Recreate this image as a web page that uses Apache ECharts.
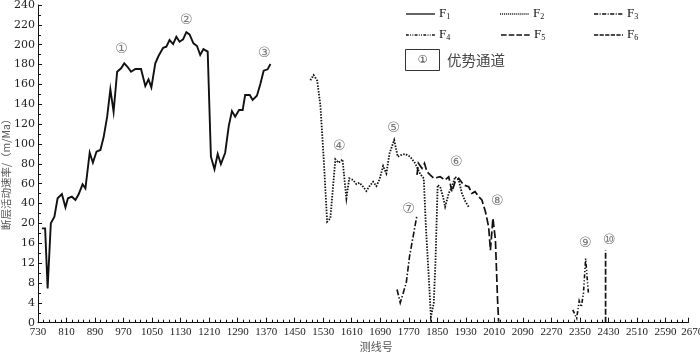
<!DOCTYPE html>
<html><head><meta charset="utf-8">
<script src="https://cdn.jsdelivr.net/npm/echarts@6/dist/echarts.min.js"></script>
<style>html,body{margin:0;padding:0;background:#fff}#c{width:700px;height:353px}</style>
</head><body><div id="c"></div><script>
// tick labels (the source axes are piecewise: equal spacing between printed labels)
const xTickLabels = [730,810,890,970,1050,1130,1210,1290,1370,1450,1530,1610,1690,1770,1850,1930,2010,2090,2270,2350,2430,2510,2590,2670];
const yTickLabels = [0,4,8,12,16,20,40,60,80,100,120,140,160,180,200,220,240];

// F1
const f1X = [741,750,757,766,776,785,797,807,814,825,835,844,855,863,875,884,894,905,914,924,933,942,952,963,972,981,991,1003,1019,1031,1040,1048,1059,1068,1081,1090,1099,1109,1118,1127,1137,1146,1155,1166,1176,1185,1194,1206,1215,1225,1234,1243,1255,1265,1274,1283,1294,1304,1311,1324,1332,1344,1354,1363,1374,1382];
const f1Y = [19,19,6.9,20.1,26.8,45.3,49.6,36.2,45.3,46.9,43.6,49.3,59.4,55.3,91.2,81.1,92.2,94,106.7,127.5,155,132.5,172.8,176.2,181.2,177.8,172.8,175.5,175.5,158.4,165.1,157,181.2,188.6,196.9,198,204.7,200.6,208,203,205.4,212.7,210.4,201.4,198.7,189.6,195.6,193,87.2,74.5,89.9,79.8,91.2,118,133.2,127.5,134.2,134.2,149.3,149.3,144.3,148.6,161,173.8,175.2,180.5];
// F2
const f2X = [1494,1503,1513,1522,1531,1541,1550,1556,1564,1573,1584,1595,1603,1614,1623,1632,1642,1651,1660,1670,1679,1688,1698,1707,1716,1729,1739,1748,1760,1774,1788,1802,1812,1818,1826,1832,1840,1845,1851,1858,1866,1872,1882,1891,1900,1910,1919,1929,1938];
const f2Y = [164.2,169.4,164,139.2,87.2,21.7,25.1,50.3,84.6,81.1,84.6,45.3,65.4,63.7,59.6,60.9,56.9,52.6,57.6,62,57.6,64.4,77.8,70.4,90.6,104,87.2,88.9,89.9,87.2,80.5,69.8,65.4,19.3,9.3,1.2,3.9,12.6,58.7,56.9,46.9,36.8,50.3,56.9,67,63.7,50.3,41.9,36.8];
// F3
const f3X = [1737,1746,1754,1763,1772,1782,1793];
const f3Y = [6.7,4.0,5.9,8.1,13.3,17.3,28.4];
// F4
const f4X = [2330,2341,2348,2354,2360,2366,2369,2374];
const f4Y = [2.6,0.9,4.4,3.2,6.0,12.9,10.2,5.8];
// F5
const f5X = [1793,1797,1807,1814,1821,1830,1840,1858,1872,1882,1891,1900,1910,1924,1938,1947,1956,1966,1975,1985,1994,1999,2006,2013,2019,2022];
const f5Y = [68.8,80.5,75.5,80.5,72.1,68.8,65.4,67.0,63.7,67.0,52.0,62.0,65.4,58.7,56.9,50.3,52.0,46.9,43.6,31.8,19.3,14.6,25.2,16.7,4.6,0.2];
// F6
const f6X = [2422,2422];
const f6Y = [0,14.6];

// channel annotations
const annNames = ['①','②','③','④','⑤','⑥','⑦','⑧','⑨','⑩'];
const annX = [964,1146,1365,1575,1727,1903,1769,2018,2365,2432];
const annY = [195.6,224.8,191.6,98,116.2,81.8,34.6,42.6,15.9,16.5];

const seriesNames = ['F1','F2','F3','F4','F5','F6'];
const legendSub = ['1','2','3','4','5','6'];

function toIdx(v, ticks){
  for (let i = 0; i < ticks.length - 1; i++) {
    if (v <= ticks[i+1]) return i + (v - ticks[i]) / (ticks[i+1] - ticks[i]);
  }
  const n = ticks.length - 1;
  return n + (v - ticks[n]) / (ticks[n] - ticks[n-1]);
}
function pts(xs, ys){ return xs.map((x,i)=>[toIdx(x,xTickLabels), toIdx(ys[i],yTickLabels)]); }

const X_MAX = 22.8; // source axis line stops short of its last printed label
const styles = [
  {type:'solid', width:1.9},
  {type:[1.5,1.4], width:1.8},
  {type:[6,2,1.5,2], width:1.6},
  {type:[4,2,1.2,2,1.2,2], width:1.6},
  {type:[8,3], width:1.7},
  {type:[6,2], width:1.7}
];
const dataSets = [[f1X,f1Y],[f2X,f2Y],[f3X,f3Y],[f4X,f4Y],[f5X,f5Y],[f6X,f6Y]];
const series = dataSets.map((d,i)=>({
  name: seriesNames[i], type:'line', data: pts(d[0], d[1]),
  showSymbol:false, symbol:'none', smooth:false, animation:false,
  lineStyle:{color:'#111', width:styles[i].width, type:styles[i].type, cap:'butt', join:'miter'}
}));
series.push({
  type:'scatter', symbolSize:0, animation:false, silent:true,
  data: annNames.map((n,i)=>({name:n, value:[toIdx(annX[i],xTickLabels), toIdx(annY[i],yTickLabels)]})),
  label:{show:true, position:'inside', formatter:p=>p.name, color:'#555', fontSize:14, fontFamily:'DejaVu Sans'}
});

const serif = 'Liberation Serif';
const legendGraphics = [];
const lgPos = [[406,14],[500,14],[594,14],[406,35],[501,35],[594,35]];
lgPos.forEach((p,i)=>{
  legendGraphics.push({type:'line', shape:{x1:p[0], y1:p[1], x2:p[0]+29, y2:p[1]},
    style:{stroke:'#111', lineWidth:1.3, lineDash: styles[i].type==='solid'?null:styles[i].type.map(v=>v*0.7)}});
  legendGraphics.push({type:'text', x:p[0]+33, y:p[1], style:{text:'F{s|'+legendSub[i]+'}', fill:'#111', font:'13px '+serif, verticalAlign:'middle',
    rich:{s:{fontSize:8, fontFamily:serif, fill:'#111', verticalAlign:'bottom', padding:[6,0,0,0]}}}});
});
legendGraphics.push({type:'rect', shape:{x:405.5, y:49.5, width:34, height:21}, style:{fill:'none', stroke:'#333', lineWidth:1}});
legendGraphics.push({type:'text', x:422.5, y:60, style:{text:'①', fill:'#444', font:'11px DejaVu Sans', align:'center', verticalAlign:'middle'}});
legendGraphics.push({type:'text', x:447, y:60, style:{text:'优势通道', fill:'#444', font:'14.5px "Noto Sans CJK SC"', verticalAlign:'middle'}});

const chart = echarts.init(document.getElementById('c'), null, {renderer:'canvas'});
chart.setOption({
  backgroundColor:'#fff',
  animation:false,
  grid:{left:38, right:11.7, top:5, bottom:30.3, containLabel:false, outerBoundsMode:'none'},
  xAxis:{
    type:'value', min:0, max:X_MAX, interval:1,
    name:'测线号', nameLocation:'middle', nameGap:19, nameMoveOverlap:false,
    nameTextStyle:{color:'#555', fontSize:11, fontFamily:'Noto Sans CJK SC', padding:[0,0,0,26]},
    axisLine:{show:true, lineStyle:{color:'#111', width:1}},
    axisTick:{show:true, inside:true, length:5, lineStyle:{color:'#111', width:1}},
    minorTick:{show:true, splitNumber:5, length:3, lineStyle:{color:'#111', width:1}},
    splitLine:{show:false},
    axisLabel:{show:true, showMaxLabel:true, showMinLabel:true, margin:4, color:'#222', fontSize:11, fontFamily:serif,
      formatter:v=> Math.abs(v-X_MAX)<1e-6 ? '{m|'+xTickLabels[xTickLabels.length-1]+'}' : String(xTickLabels[Math.round(v)]),
      rich:{m:{fontSize:11, fontFamily:serif, color:'#222', padding:[0,0,0,8]}}}
  },
  yAxis:{
    type:'value', min:0, max:yTickLabels.length-1, interval:1,
    name:'断层活动速率/（m/Ma）', nameLocation:'middle', nameGap:27, nameRotate:90, nameMoveOverlap:false,
    nameTextStyle:{color:'#555', fontSize:10.5, fontFamily:'Noto Sans CJK SC', padding:[0,16,0,0]},
    axisLine:{show:true, lineStyle:{color:'#111', width:1}},
    axisTick:{show:true, inside:true, length:4, lineStyle:{color:'#111', width:1}},
    minorTick:{show:true, splitNumber:2, length:3, lineStyle:{color:'#111', width:1}},
    splitLine:{show:false},
    axisLabel:{margin:3, color:'#222', fontSize:11, fontFamily:'DejaVu Serif', formatter:v=>String(yTickLabels[Math.round(v)])}
  },
  graphic: legendGraphics,
  series: series
});
</script></body></html>
